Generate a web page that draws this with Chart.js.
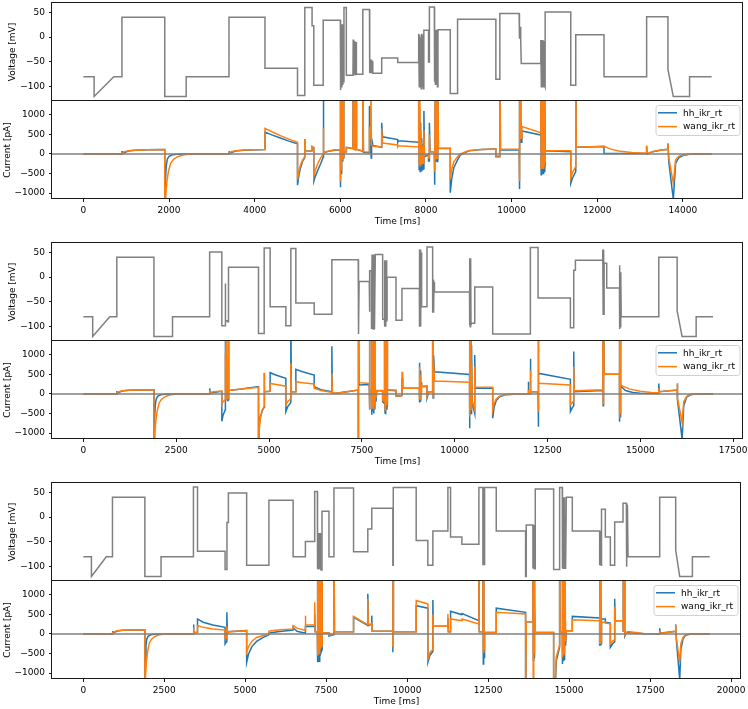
<!DOCTYPE html>
<html><head><meta charset="utf-8">
<script src="https://cdn.jsdelivr.net/npm/chart.js@4/dist/chart.umd.min.js"></script>
<style>
html,body{margin:0;padding:0;background:#fff;}
#fig{position:relative;width:748px;height:709px;overflow:hidden;background:#fff;}
canvas{position:absolute;left:0;}
</style></head><body><div id="fig"></div>
<script>
// ---------------- DATA (time ms, value) ----------------
const legendLabels = ['hh_ikr_rt', 'wang_ikr_rt'];
const voltageTicks = [-100, -50, 0, 50];
const currentTicks = [-1000, -500, 0, 500, 1000];
const p1XTicks = [0, 2000, 4000, 6000, 8000, 10000, 12000, 14000];
const p2XTicks = [0, 2500, 5000, 7500, 10000, 12500, 15000, 17500];
const p3XTicks = [0, 2500, 5000, 7500, 10000, 12500, 15000, 17500, 20000];

const p1Voltage = [[0,-80],[250,-80],[250,-120],[710,-80],[900,-80],[900,40],[1900,40],[1900,-120],[2400,-120],[2400,-80],[3400,-80],[3400,40],[4240,40],[4240,-63],[5000,-63],[5000,-118],[5170,-118],[5170,60],[5340,60],[5340,23],[5380,23],[5380,-97],[5600,-97],[5600,34],[6000,34],
[6000,-107],[6012,26],[6024,-100],[6036,26],[6048,-95],[6060,26],[6072,-90],[6085,26],[6085,60],[6140,60],[6140,-77],[6295,-77],[6300,-5],[6312,-77],[6324,-8],[6336,-77],[6348,-10],[6360,-77],[6370,-10],[6375,-75],[6525,-75],[6525,56],[6680,56],[6680,-73],[6692,-45],[6705,-73],[6718,-45],[6731,-73],[6745,-48],[6758,-73],[6966,-73],[6966,-42],[7340,-42],[7340,-51],[7830,-51],
[7830,7],[7842,-100],[7854,5],[7866,-95],[7878,0],[7890,-104],[7902,7],[7915,-100],[7930,5],[7945,-104],[7950,14],[8060,14],[8060,-50],[8080,-50],[8080,61],[8195,61],[8195,-90],[8207,15],[8219,-95],[8231,15],[8243,-88],[8255,15],[8267,-100],[8280,15],[8567,15],[8567,-114],[8738,-114],[8738,36],[9632,36],[9632,-85],[9725,-85],[9725,48],[10176,48],[10176,21],[10190,-3],[10200,21],[10212,-3],[10225,-53],[10682,-53],
[10682,-6],[10694,-100],[10706,-6],[10718,-95],[10730,-6],[10742,-100],[10754,-8],[10766,-95],[10783,-100],[10783,51],[11381,51],[11381,-97],[11498,-97],[11498,5],[12158,5],[12158,-80],[13153,-80],[13153,41],[13651,41],[13651,-65],[13776,-120],[14156,-120],[14156,-80],[14670,-80]];

const p1HH = [[0,0],[900,0],[902,75],[912,5],[960,40],[1050,75],[1200,95],[1500,108],[1900,115],
[1900,-2500],[1915,-700],[1935,-300],[1960,-130],[2000,-60],[2080,-20],[2200,-5],[2400,0],[3400,0],[3402,70],[3412,5],[3460,40],[3550,75],[3750,95],[4240,115],
[4240,560],[4400,490],[4600,410],[4800,330],[5000,260],
[5000,-800],[5030,-560],[5070,-350],[5120,-180],[5170,-90],[5170,380],[5185,70],[5340,80],[5340,190],[5380,160],[5380,-700],[5420,-560],[5480,-400],[5540,-250],[5600,-80],[5600,2500],[5615,30],[5700,60],[5850,95],[6000,110],
[6000,-850],[6008,2500],[6016,-500],[6026,2500],[6036,-300],[6046,2500],[6056,-200],[6066,1500],[6076,-120],[6085,-120],[6090,60],[6140,60],[6140,170],[6295,140],[6300,2500],[6310,120],[6322,2500],[6334,100],[6346,1200],[6358,90],[6370,2500],[6378,120],[6525,70],[6525,1500],[6540,40],[6680,30],[6680,1230],[6700,500],[6720,-100],[6730,400],[6760,220],[6966,170],
[6966,800],[6985,440],[7340,370],[7340,300],[7350,340],[7830,300],
[7830,2500],[7840,-400],[7852,1200],[7864,-450],[7876,800],[7888,-420],[7900,400],[7915,-400],[7930,250],[7945,-380],[7952,1100],[7965,-70],[8060,-20],[8060,-180],[8078,-180],[8080,800],[8095,60],[8195,60],[8197,-300],[8210,-790],[8220,2500],[8232,-200],[8245,2500],[8260,-195],[8275,2500],[8290,145],[8567,140],
[8567,-990],[8600,-650],[8650,-350],[8738,-150],[8800,-30],[9000,80],[9300,115],[9632,128],[9632,-70],[9725,-70],[9725,2500],[9740,100],[10176,100],
[10176,-900],[10185,2500],[10195,-200],[10205,2500],[10220,300],[10240,590],[10682,485],
[10682,2500],[10690,-535],[10700,2500],[10712,-400],[10724,2500],[10736,-500],[10748,2500],[10760,-450],[10775,1500],[10783,-300],[10785,80],[11381,60],
[11381,-750],[11420,-620],[11498,-450],[11498,2500],[11510,170],[12158,190],[12158,15],[13153,10],[13153,210],[13165,0],[13300,60],[13500,100],[13651,120],[13651,270],[13670,-200],[13776,-1160],[13830,-240],[13900,-100],[14000,-40],[14140,-10],[14300,0],[14670,0]];

const p1Wang = [[0,0],[900,0],[902,20],[960,60],[1050,85],[1200,98],[1500,108],[1900,115],
[1900,-2500],[1925,-1000],[1950,-700],[1990,-420],[2040,-230],[2100,-140],[2200,-70],[2300,-35],[2400,-15],[2550,0],[3400,0],[3402,20],[3460,60],[3550,85],[3750,100],[4240,115],
[4240,655],[4400,570],[4600,470],[4800,380],[5000,300],
[5000,-660],[5030,-450],[5070,-280],[5120,-150],[5170,-70],[5170,370],[5185,65],[5340,80],[5340,190],[5380,160],[5380,-580],[5420,-400],[5480,-230],[5540,-100],[5600,-10],[5600,670],[5615,40],[5700,70],[5850,100],[6000,115],
[6000,-700],[6008,2500],[6016,-400],[6026,2500],[6036,-250],[6046,2500],[6056,-150],[6066,2500],[6076,-100],[6085,-80],[6090,60],[6140,60],[6140,165],[6295,135],[6300,2500],[6310,110],[6322,2500],[6334,95],[6346,2500],[6358,85],[6370,1500],[6378,115],[6525,75],[6525,2500],[6540,60],[6680,50],[6680,700],[6700,400],[6712,2500],[6725,250],[6760,200],[6966,180],
[6966,650],[6985,280],[7340,230],[7340,190],[7350,210],[7830,180],
[7830,2500],[7840,-250],[7852,2500],[7864,-300],[7876,600],[7888,-250],[7900,300],[7915,-240],[7930,200],[7945,-220],[7952,600],[7965,-40],[8060,0],[8060,-100],[8078,-100],[8080,500],[8095,60],[8195,60],[8197,-200],[8210,-450],[8220,2500],[8232,-150],[8245,2500],[8260,-100],[8275,2500],[8290,150],[8567,145],
[8567,-660],[8600,-400],[8650,-200],[8738,-70],[8800,0],[9000,90],[9300,115],[9632,125],[9632,-50],[9725,-50],[9725,2500],[9740,120],[10176,120],
[10176,-700],[10185,2500],[10195,-150],[10205,2500],[10220,400],[10240,700],[10682,545],
[10682,2500],[10690,-365],[10700,2500],[10712,-300],[10724,2500],[10736,-365],[10748,2500],[10760,-300],[10775,2500],[10783,-200],[10785,90],[11381,80],
[11381,-620],[11420,-480],[11498,-320],[11498,2500],[11510,175],[12158,195],[12300,130],[12500,75],[12800,35],[13153,20],[13153,210],[13165,10],[13300,65],[13500,100],[13651,120],[13651,270],[13670,-100],[13776,-750],[13830,-150],[13900,-60],[14000,-25],[14140,-5],[14300,0],[14670,0]];

const p2Voltage = [[0,-80],[250,-80],[250,-120],[710,-80],[900,-80],[900,40],[1900,40],[1900,-120],[2400,-120],[2400,-80],[3400,-80],[3400,51],[3728,51],[3728,-98],[3818,-98],[3822,-13],[3830,-88],[3880,-88],[3880,-90],[3908,-90],[3908,20],[4716,20],[4716,-114],[4869,-114],[4869,59],[5030,59],[5030,-60],[5453,-60],[5453,-98],[5587,-98],[5587,58],[5722,58],[5722,-52],[6216,-52],[6216,-75],[6692,-75],[6692,35],[7402,35],[7402,-115],[7410,35],[7418,-115],[7426,-9],[7700,-9],[7700,-70],[7715,-70],[7715,13],[7760,13],[7760,-105],[7775,46],[7787,-105],[7800,46],[7812,-105],[7825,46],[7840,-105],[7862,46],[8060,46],[8060,-85],[8110,-85],[8110,34],[8120,-100],[8132,34],[8144,-100],[8156,34],[8168,-90],[8180,-85],[8180,0],[8419,0],[8419,-87],[8580,-87],[8580,-23],[9048,-23],[9048,56],[9060,-100],[9072,56],[9084,-100],[9096,50],[9110,-60],[9254,-60],[9254,61],[9407,61],[9407,-72],[9420,-5],[9432,-72],[9444,-10],[9455,-30],[10400,-30],[10400,-97],[10410,38],[10420,-100],[10430,38],[10440,-95],[10450,-93],[10540,-93],[10540,-20],[11024,-20],[11024,-115],[12039,-115],[12039,60],[12246,60],[12246,-42],[13117,-42],[13117,-102],[13207,-102],[13207,14],[13252,14],[13252,34],[13988,34],[13988,56],[14000,-75],[14012,56],[14024,-75],[14025,28],[14095,28],[14095,-22],[14438,-22],[14438,-105],[14450,24],[14462,-100],[14474,10],[14486,-80],[15498,-80],[15498,40],[15992,40],[15992,-68],[16126,-120],[16504,-120],[16504,-80],[16960,-80]];

const p2HH = [[0,0],[900,0],[902,75],[912,5],[960,40],[1050,75],[1200,95],[1500,105],[1900,110],
[1900,-2500],[1915,-700],[1935,-300],[1960,-130],[2000,-60],[2080,-20],[2200,-5],[2400,0],[3400,0],[3402,145],[3415,20],[3500,40],[3728,70],
[3728,-700],[3760,-550],[3818,-410],[3820,2500],[3830,-150],[3850,2500],[3870,-150],[3890,-160],[3908,-150],[3908,2500],[3920,90],[4200,120],[4716,190],
[4716,-2500],[4730,-900],[4760,-600],[4820,-420],[4869,-340],[4869,540],[4880,60],[5030,70],[5030,545],[5200,480],[5453,400],
[5453,-450],[5500,-330],[5587,-220],[5587,2500],[5600,60],[5722,60],[5722,630],[5900,570],[6216,485],[6216,190],[6400,110],[6692,60],
[6692,1225],[6705,20],[6800,20],[7100,60],[7402,100],
[7402,2500],[7408,-2500],[7416,2500],[7426,230],[7700,240],[7700,2500],[7710,-100],[7715,-400],[7718,100],[7760,120],[7762,2500],[7772,-535],[7785,2500],[7797,-450],[7810,2500],[7822,-500],[7835,2500],[7850,-400],[7862,80],[7880,-200],[7900,80],[8060,80],[8060,-200],[8110,-250],[8112,2500],[8124,-490],[8136,2500],[8148,-500],[8160,2500],[8175,-400],[8180,-300],[8182,1500],[8195,100],[8419,80],[8419,-50],[8543,-50],[8580,-40],[8582,400],[8600,145],[9048,145],[9050,800],[9060,-220],[9072,600],[9084,-200],[9096,300],[9110,190],[9254,200],[9256,-100],[9300,60],[9407,60],[9407,2500],[9420,-100],[9432,1000],[9455,570],[10400,500],
[10400,-880],[10410,2500],[10422,-500],[10434,2500],[10446,-500],[10455,1250],[10470,-200],[10540,-500],[10540,1000],[10555,145],[11024,145],
[11024,-620],[11060,-350],[11120,-170],[11200,-80],[11350,-20],[11600,-5],[11980,0],[11982,315],[11995,10],[12039,10],[12039,900],[12050,60],[12246,60],
[12246,-840],[12255,2500],[12270,530],[13117,375],
[13117,-450],[13170,-350],[13207,-300],[13207,1085],[13220,60],[13988,90],[13990,2500],[14000,-300],[14010,2500],[14025,510],[14438,505],
[14438,2500],[14445,-710],[14455,2500],[14465,-600],[14475,200],[14486,190],[14600,90],[14800,40],[15000,17],[15498,10],
[15498,270],[15510,60],[15992,100],[15992,270],[16010,-150],[16126,-1160],[16170,-300],[16250,-80],[16350,-20],[16500,0],[16960,0]];

const p2Wang = [[0,0],[900,0],[902,20],[960,60],[1050,85],[1200,95],[1500,105],[1900,110],
[1900,-2500],[1925,-1000],[1950,-700],[1990,-420],[2040,-230],[2100,-140],[2200,-70],[2300,-35],[2400,-15],[2550,0],[3400,0],[3402,60],[3415,40],[3500,55],[3728,75],
[3728,-265],[3760,-200],[3818,-150],[3820,1050],[3830,-100],[3850,2500],[3870,-120],[3890,-100],[3908,-100],[3908,2500],[3920,90],[4200,120],[4716,170],
[4716,-2500],[4730,-1000],[4760,-650],[4820,-400],[4869,-320],[4869,545],[4880,60],[5030,70],[5030,270],[5200,240],[5453,200],
[5453,-280],[5500,-200],[5587,-120],[5587,780],[5600,60],[5722,60],[5722,315],[5900,290],[6216,255],[6216,145],[6400,90],[6692,40],
[6692,530],[6705,20],[6800,20],[7100,60],[7402,100],
[7402,2500],[7408,-2500],[7416,2500],[7426,290],[7700,270],[7700,2500],[7710,-100],[7715,-390],[7718,100],[7760,120],[7762,2500],[7772,-400],[7785,2500],[7797,-350],[7810,2500],[7822,-400],[7835,2500],[7850,-300],[7862,90],[7880,-100],[7900,90],[8060,90],[8060,-150],[8110,-200],[8112,2500],[8124,-400],[8136,2500],[8148,-410],[8160,2500],[8175,-300],[8180,-200],[8182,2500],[8195,100],[8419,100],[8419,-50],[8543,-50],[8580,-40],[8582,570],[8600,145],[9048,145],[9050,700],[9060,-150],[9072,500],[9084,-150],[9096,250],[9110,190],[9254,190],[9256,-50],[9300,60],[9407,60],[9407,2500],[9420,-80],[9432,800],[9455,335],[10400,300],
[10400,-580],[10410,2500],[10422,-400],[10434,2500],[10446,-400],[10455,800],[10470,-150],[10540,-400],[10540,700],[10555,170],[11024,170],
[11024,-410],[11060,-250],[11120,-130],[11200,-60],[11350,-15],[11600,-5],[11980,0],[11982,100],[11995,10],[12039,10],[12039,600],[12050,60],[12246,60],
[12246,-450],[12255,2500],[12270,275],[13117,230],
[13117,-280],[13170,-220],[13207,-180],[13207,700],[13220,80],[13988,110],[13990,2500],[14000,-250],[14010,2500],[14025,505],[14438,505],
[14438,2500],[14445,-600],[14455,2500],[14465,-500],[14475,230],[14486,220],[14700,130],[15000,70],[15300,35],[15498,30],
[15498,150],[15510,60],[15992,100],[15992,270],[16010,-100],[16126,-730],[16170,-200],[16250,-60],[16350,-15],[16500,0],[16960,0]];

const p3Voltage = [[0,-80],[250,-80],[250,-120],[710,-80],[900,-80],[900,40],[1900,40],[1900,-120],[2400,-120],[2400,-80],[3400,-80],[3400,61],[3526,61],[3526,-69],[4377,-69],[4377,-106],[4428,-106],[4435,-11],[4479,-11],[4479,49],[5043,49],[5043,-97],[5730,-97],[5730,34],[6478,34],[6478,-80],[6857,-80],[6857,-49],[7144,-49],[7144,52],[7226,52],[7226,-104],[7238,-32],[7250,-104],[7262,-32],[7274,-104],[7286,-32],[7298,-104],[7310,-32],[7322,-104],[7340,-107],[7370,-107],[7370,12],[7585,12],[7585,-80],[7739,-80],[7739,59],[8344,59],[8344,-70],[8784,-70],[8784,-24],[8907,-24],[8907,18],[9557,18],[9557,-97],[9570,-97],[9570,60],[10278,60],[10278,-47],[10638,-47],[10638,-97],[10793,-97],[10793,-28],[11257,-28],[11257,60],[11339,60],[11339,-40],[11689,-40],[11689,-55],[12214,-55],[12214,60],[12338,60],[12338,-97],[12350,60],[12362,-97],[12374,60],[12390,-97],[12390,60],[12750,60],[12750,-28],[13656,-28],[13656,-120],[13677,-120],[13677,-16],[13883,-16],[13883,-104],[13895,-16],[13907,-104],[13919,-16],[13931,-104],[13955,-104],[13955,57],[14522,57],[14522,-106],[14707,-106],[14707,60],[14789,60],[14789,-103],[14800,40],[14812,-103],[14824,40],[14836,-103],[14848,40],[14860,-103],[14892,-103],[14913,40],[15098,40],[15098,-28],[15943,-28],[15943,-97],[15955,-28],[15967,-97],[15979,-28],[15995,-97],[16000,16],[16118,16],[16118,-40],[16273,-40],[16273,-97],[16407,-97],[16407,-10],[16664,-10],[16664,28],[16767,28],[16767,-100],[16775,28],[16787,-100],[16800,25],[16819,-80],[17797,-80],[17797,40],[18291,40],[18291,-67],[18415,-120],[18806,-120],[18806,-80],[19340,-80]];

const p3HH = [[0,0],[900,0],[902,75],[912,5],[960,40],[1050,75],[1200,95],[1500,105],[1900,110],
[1900,-2500],[1915,-700],[1935,-300],[1960,-130],[2000,-60],[2080,-20],[2200,-5],[2400,0],[3400,0],[3402,240],[3415,40],[3526,40],
[3526,385],[3700,300],[4000,230],[4377,170],[4377,-255],[4420,-200],[4428,-150],[4435,555],[4450,40],[4479,40],[4479,60],[5043,85],
[5043,-725],[5100,-520],[5200,-330],[5350,-190],[5555,-85],[5730,-20],[5730,20],[6000,60],[6478,100],[6478,160],[6600,70],[6857,20],[6857,190],[7144,190],[7144,500],[7160,60],[7226,60],
[7226,2500],[7234,-725],[7246,2500],[7258,-600],[7270,2500],[7282,-700],[7294,2500],[7306,-600],[7318,2500],[7330,-500],[7370,-400],[7370,2500],[7380,25],[7585,25],[7585,-50],[7739,-20],[7739,2500],[7755,60],[8344,60],
[8344,430],[8550,330],[8784,220],[8784,1030],[8800,220],[8907,250],[8907,470],[8920,70],[9557,70],
[9557,-470],[9565,2500],[9575,60],[10278,60],[10278,725],[10638,660],[10638,-725],[10700,-550],[10793,-450],[10793,870],[10805,195],[11257,195],[11257,400],[11270,60],[11339,60],[11339,580],[11689,495],[11689,480],[11695,520],[12214,340],[12214,2500],[12225,60],[12338,60],
[12338,2500],[12350,-770],[12362,2500],[12374,-600],[12390,40],[12750,40],
[12750,660],[13656,555],[13656,-2500],[13670,-300],[13677,315],[13883,315],[13883,2500],[13895,-670],[13907,2500],[13919,-600],[13931,500],[13955,40],[14522,40],
[14522,-2500],[14600,-700],[14707,-340],[14707,2500],[14720,60],[14789,60],[14789,2500],[14800,-770],[14812,2500],[14824,-700],[14836,2500],[14848,-650],[14860,1500],[14892,-300],[14913,85],[15098,85],
[15098,450],[15943,410],[15943,-300],[15955,2500],[15967,-300],[15979,1500],[15995,-250],[16000,385],[16118,385],[16118,300],[16273,280],[16273,-340],[16340,-250],[16407,-200],[16407,900],[16420,340],[16664,340],[16664,2500],[16680,50],[16700,2500],[16720,-50],[16767,40],[16819,40],[17300,5],[17797,0],
[17797,145],[17810,20],[18291,70],[18291,240],[18310,-150],[18415,-1160],[18450,-400],[18520,-120],[18600,-30],[18750,0],[19340,0]];

const p3Wang = [[0,0],[900,0],[902,20],[960,60],[1050,85],[1200,95],[1500,105],[1900,110],
[1900,-2500],[1925,-1000],[1950,-700],[1990,-420],[2040,-230],[2100,-140],[2200,-70],[2300,-35],[2400,-15],[2550,0],[3400,0],[3402,170],[3415,40],[3526,40],
[3526,215],[3700,170],[4000,130],[4377,100],[4377,-120],[4420,-100],[4428,-80],[4435,200],[4450,40],[4479,40],[4479,60],[5043,85],
[5043,-470],[5100,-330],[5200,-190],[5350,-90],[5555,-40],[5730,-10],[5730,70],[6000,100],[6478,130],[6478,215],[6600,150],[6857,90],[6857,470],[6865,230],[7144,230],[7144,810],[7160,60],[7226,60],
[7226,2500],[7234,-555],[7246,2500],[7258,-450],[7270,2500],[7282,-500],[7294,2500],[7306,-450],[7318,2500],[7330,-350],[7370,-300],[7370,2500],[7380,25],[7585,25],[7585,-30],[7739,-10],[7739,2500],[7755,60],[8344,60],
[8344,450],[8550,350],[8784,240],[8784,900],[8800,240],[8907,260],[8907,300],[8920,70],[9557,70],
[9557,-330],[9565,2500],[9575,60],[10278,60],[10278,855],[10638,770],[10638,-640],[10700,-480],[10793,-400],[10793,500],[10805,195],[11257,195],[11257,510],[11270,60],[11339,60],[11339,385],[11689,340],[11689,320],[11695,385],[12214,255],[12214,2500],[12225,60],[12338,60],
[12338,2500],[12350,-470],[12362,2500],[12374,-400],[12390,40],[12750,40],
[12750,555],[13656,510],[13656,-2500],[13670,-300],[13677,315],[13883,315],[13883,2500],[13895,-2500],[13907,2500],[13919,-500],[13931,2500],[13955,40],[14522,40],
[14522,-2500],[14600,-600],[14707,-280],[14707,2500],[14720,60],[14789,60],[14789,2500],[14800,-600],[14812,2500],[14824,-550],[14836,2500],[14848,-500],[14860,2500],[14892,-200],[14913,85],[15098,85],
[15098,365],[15943,340],[15943,-255],[15955,2500],[15967,-255],[15979,2500],[15995,-200],[16000,300],[16118,300],[16118,280],[16273,260],[16273,-255],[16340,-180],[16407,-150],[16407,700],[16420,340],[16664,340],[16664,2500],[16680,60],[16700,2500],[16720,-20],[16767,40],[16819,60],[17300,15],[17797,5],
[17797,80],[17810,20],[18291,70],[18291,240],[18310,-100],[18415,-725],[18450,-250],[18520,-80],[18600,-20],[18750,0],[19340,0]];

// ---------------- RENDERING ----------------
Chart.defaults.font.family = "'DejaVu Sans', sans-serif";
Chart.defaults.font.size = 9;
Chart.defaults.color = '#000';

const fmt = v => String(v).replace('-', '\u2212');
const toXY = arr => arr.map(([x, y]) => ({x, y}));
const fig = document.getElementById('fig');

const framePlugin = {
  id: 'frame',
  afterDraw(chart) {
    const a = chart.chartArea, c = chart.ctx;
    const l = Math.round(a.left) - 0.5, r = Math.round(a.right) - 0.5;
    const t = Math.round(a.top) - 0.5, b = Math.round(a.bottom) - 0.5;
    c.save(); c.strokeStyle = '#1a1a1a'; c.lineWidth = 1;
    c.strokeRect(l, t, r - l, b - t);
    c.restore();
  }
};
const zeroPlugin = {
  id: 'zeroLine',
  afterDatasetsDraw(chart) {
    const a = chart.chartArea, c = chart.ctx;
    const y = chart.scales.y.getPixelForValue(0);
    c.save(); c.strokeStyle = '#808080'; c.lineWidth = 1.4;
    c.beginPath(); c.moveTo(a.left, y); c.lineTo(a.right, y); c.stroke();
    c.restore();
  }
};
const legendPlugin = {
  id: 'mplLegend',
  afterDraw(chart) {
    const a = chart.chartArea, c = chart.ctx;
    const w = 84, h = 30, x = a.right - 3.5 - w, y = a.top + 4;
    c.save();
    c.beginPath();
    if (c.roundRect) c.roundRect(x + 0.5, y + 0.5, w, h, 2.5); else c.rect(x + 0.5, y + 0.5, w, h);
    c.fillStyle = 'rgba(255,255,255,0.85)'; c.fill();
    c.strokeStyle = '#d0d0d0'; c.lineWidth = 1; c.stroke();
    const cols = ['#1f77b4', '#ff7f0e'];
    c.font = "9px 'DejaVu Sans', sans-serif"; c.textBaseline = 'middle';
    legendLabels.forEach((lab, i) => {
      const yy = y + 7.8 + i * 13.8;
      c.strokeStyle = cols[i]; c.lineWidth = 1.5;
      c.beginPath(); c.moveTo(x + 2.5, yy); c.lineTo(x + 21.5, yy); c.stroke();
      c.fillStyle = '#000'; c.fillText(lab, x + 27.5, yy + 0.5);
    });
    c.restore();
  }
};

function addCanvas(top, height) {
  const cv = document.createElement('canvas');
  cv.width = 748; cv.height = height;
  cv.style.top = top + 'px';
  fig.appendChild(cv);
  return cv;
}

const tickGrid = {display: true, drawOnChartArea: false, drawTicks: true, tickLength: 3, tickWidth: 1, tickColor: '#1a1a1a', color: '#1a1a1a'};

function drawGroup(G, volt, hh, wang, xTicks, dataEnd, rightPad) {
  const margin = dataEnd * 0.05;
  const xmin = -margin, xmax = dataEnd + margin;
  // voltage
  new Chart(addCanvas(G, 110), {
    type: 'line',
    data: {datasets: [{data: toXY(volt), borderColor: '#808080', borderWidth: 1.5, pointRadius: 0, tension: 0, fill: false}]},
    options: {
      responsive: false, animation: false, parsing: false,
      layout: {padding: {top: 3, bottom: 9, left: 0, right: rightPad}},
      plugins: {legend: {display: false}, tooltip: {enabled: false}},
      scales: {
        x: {type: 'linear', min: xmin, max: xmax, display: false},
        y: {type: 'linear', min: -129, max: 69,
          afterBuildTicks: s => { s.ticks = voltageTicks.map(v => ({value: v})); },
          afterFit: s => { s.width = 52; s.paddingTop = 0; s.paddingBottom = 0; },
          ticks: {padding: 4, callback: v => fmt(v)},
          grid: tickGrid, border: {display: false},
          title: {display: true, text: 'Voltage [mV]', padding: {top: 7, bottom: 0}}
        }
      }
    },
    plugins: [framePlugin]
  });
  // current
  new Chart(addCanvas(G + 93, 136), {
    type: 'line',
    data: {datasets: [
      {label: legendLabels[1], data: toXY(wang), borderColor: '#ff7f0e', borderWidth: 1.5, pointRadius: 0, tension: 0, fill: false},
      {label: legendLabels[0], data: toXY(hh), borderColor: '#1f77b4', borderWidth: 1.5, pointRadius: 0, tension: 0, fill: false}
    ]},
    options: {
      responsive: false, animation: false, parsing: false,
      layout: {padding: {top: 8, bottom: 0, left: 0, right: rightPad}},
      plugins: {legend: {display: false}, tooltip: {enabled: false}},
      scales: {
        x: {type: 'linear', min: xmin, max: xmax,
          afterBuildTicks: s => { s.ticks = xTicks.map(v => ({value: v})); },
          afterFit: s => { s.height = 30; s.paddingLeft = 0; s.paddingRight = 0; },
          ticks: {autoSkip: false, maxRotation: 0, padding: 3, callback: v => fmt(v)},
          grid: tickGrid, border: {display: false},
          title: {display: true, text: 'Time [ms]', padding: {top: 0, bottom: 1.5}}
        },
        y: {type: 'linear', min: -1153, max: 1357,
          afterBuildTicks: s => { s.ticks = currentTicks.map(v => ({value: v})); },
          afterFit: s => { s.width = 52; s.paddingTop = 0; s.paddingBottom = 0; },
          ticks: {padding: 4, callback: v => fmt(v)},
          grid: tickGrid, border: {display: false},
          title: {display: true, text: 'Current [pA]', padding: {top: 2, bottom: 0}}
        }
      }
    },
    plugins: [zeroPlugin, framePlugin, legendPlugin]
  });
}

drawGroup(0, p1Voltage, p1HH, p1Wang, p1XTicks, 14670, 5);
drawGroup(240, p2Voltage, p2HH, p2Wang, p2XTicks, 16920, 5);
drawGroup(480, p3Voltage, p3HH, p3Wang, p3XTicks, 19340, 7);
</script></body></html>
